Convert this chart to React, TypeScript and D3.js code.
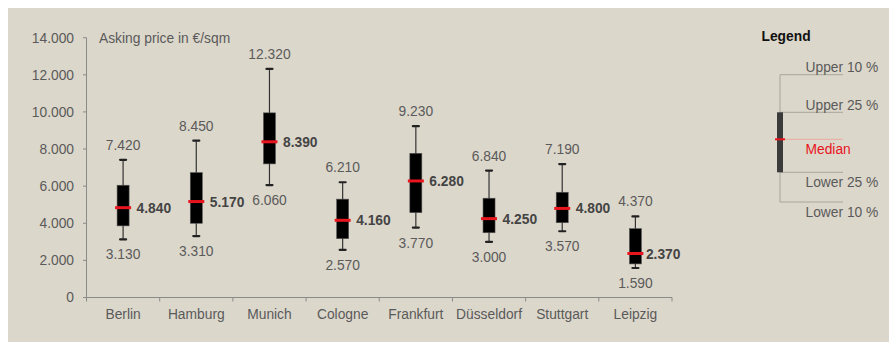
import React from "react";
import * as d3 from "d3";

const cities = ["Berlin", "Hamburg", "Munich", "Cologne", "Frankfurt", "Düsseldorf", "Stuttgart", "Leipzig"];
const lower10 = [3130, 3310, 6060, 2570, 3770, 3000, 3570, 1590];
const lower25 = [3860, 4000, 7200, 3170, 4570, 3490, 4030, 1810];
const medians = [4840, 5170, 8390, 4160, 6280, 4250, 4800, 2370];
const upper25 = [6050, 6730, 9950, 5300, 7770, 5350, 5670, 3710];
const upper10 = [7420, 8450, 12320, 6210, 9230, 6840, 7190, 4370];
const yTicks = [0, 2000, 4000, 6000, 8000, 10000, 12000, 14000];
const legendLabels = ["Upper 10 %", "Upper 25 %", "Median", "Lower 25 %", "Lower 10 %"];

const FONT = "'Liberation Sans', Arial, Helvetica, sans-serif";
const BG = "#dcd7cb";
const TXT = "#5a5a5a";
const FS = 13.8;

export default function App() {
  const W = 889, H = 342;
  const y = d3.scaleLinear().domain([0, 14000]).range([297.5, 37.7]);
  const x = d3.scaleBand<string>().domain(cities).range([86.5, 672]).padding(0);
  const loc = d3.formatLocale({ decimal: ",", thousands: ".", grouping: [3], currency: ["", "€"] });
  const fmt = loc.format(",d");
  const bw = x.bandwidth();
  const boxW = 12, capW = 6, medW = 16;

  const ly = d3.scaleLinear().domain([0, 4]).range([74.7, 202]);
  const legX = 780;
  const legY = [74.7, 112.3, 139.3, 172.3, 202];

  return (
    <svg width={W} height={H} style={{ position: "absolute", left: 0, top: 0 }} fontFamily={FONT}>
      <rect x={0} y={0} width={W} height={H} fill="#ffffff" />
      <rect x={8} y={8} width={W - 8} height={H - 8} fill={BG} />

      {/* Y axis */}
      <line x1={86.5} x2={86.5} y1={y(14000)} y2={y(0)} stroke="#8a8a8a" strokeWidth={1} />
      {yTicks.map((t) => (
        <g key={t}>
          <line x1={83} x2={86.5} y1={y(t)} y2={y(t)} stroke="#8a8a8a" />
          <text x={74} y={y(t) + 4.9} textAnchor="end" fontSize={FS} fill={TXT}>
            {fmt(t)}
          </text>
        </g>
      ))}
      <text x={99} y={y(14000) + 4.9} fontSize={FS} fill={TXT}>Asking price in €/sqm</text>

      {/* X axis */}
      <line x1={86.5} x2={672} y1={y(0)} y2={y(0)} stroke="#8a8a8a" />
      {[...cities.map((c) => x(c) as number), 672].map((v, i) => (
        <line key={i} x1={v} x2={v} y1={y(0)} y2={y(0) + 4} stroke="#8a8a8a" />
      ))}
      {cities.map((c) => (
        <text key={c} x={(x(c) as number) + bw / 2} y={319} textAnchor="middle" fontSize={FS} fill={TXT}>
          {c}
        </text>
      ))}

      {/* Boxes */}
      {cities.map((c, i) => {
        const cx = (x(c) as number) + bw / 2;
        return (
          <g key={c}>
            <line x1={cx} x2={cx} y1={y(upper10[i])} y2={y(lower10[i])} stroke="#333" strokeWidth={1.2} />
            <line x1={cx - capW / 2} x2={cx + capW / 2} y1={y(upper10[i])} y2={y(upper10[i])} stroke="#222" strokeWidth={2.2} strokeLinecap="round" />
            <line x1={cx - capW / 2} x2={cx + capW / 2} y1={y(lower10[i])} y2={y(lower10[i])} stroke="#222" strokeWidth={2.2} strokeLinecap="round" />
            <rect x={cx - boxW / 2} y={y(upper25[i])} width={boxW} height={y(lower25[i]) - y(upper25[i])} fill="#000" stroke="#555" strokeWidth={0.6} />
            <line x1={cx - medW / 2} x2={cx + medW / 2} y1={y(medians[i])} y2={y(medians[i])} stroke="#e8141e" strokeWidth={3} />
            <text x={cx} y={y(upper10[i]) - 10} textAnchor="middle" fontSize={FS} fill={TXT}>{fmt(upper10[i])}</text>
            <text x={cx} y={y(lower10[i]) + 20} textAnchor="middle" fontSize={FS} fill={TXT}>{fmt(lower10[i])}</text>
            <text x={cx + (i === cities.length - 1 ? 10.5 : 13.5)} y={y(medians[i]) + 5} fontSize={FS} fontWeight="bold" fill="#444">{fmt(medians[i])}</text>
          </g>
        );
      })}

      {/* Legend */}
      <text x={761.5} y={40.8} fontSize={FS} fontWeight="bold" fill="#111">Legend</text>
      {legY.map((v, i) => (
        <line key={i} x1={legX} x2={843} y1={v} y2={v} stroke={i === 2 ? "#e8a8a0" : "#a9a59b"} strokeWidth={1} />
      ))}
      <line x1={legX} x2={legX} y1={ly(0)} y2={ly(4)} stroke="#a9a59b" strokeWidth={1} />
      <rect x={legX - 3} y={legY[1]} width={6} height={legY[3] - legY[1]} fill="#3b3b3b" />
      <line x1={legX - 5} x2={legX + 5} y1={legY[2]} y2={legY[2]} stroke="#e8141e" strokeWidth={2} />
      {legendLabels.map((l, i) => {
        const above = i < 2;
        const yy = above ? legY[i] - 7.7 + 4.9 : legY[i] + 10 + 4.9;
        return (
          <text key={l} x={805.5} y={yy} fontSize={FS} fill={i === 2 ? "#e8141e" : TXT}>{l}</text>
        );
      })}
    </svg>
  );
}
